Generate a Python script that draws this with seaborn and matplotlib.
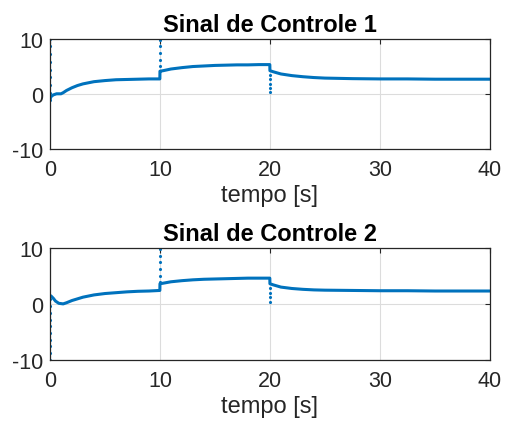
import numpy as np
import pandas as pd
import matplotlib
matplotlib.use("Agg")
import matplotlib.pyplot as plt
import seaborn as sns

# Control signal 1: smooth response segments (time in s, value)
t_u1 = [0.0, 0.1, 0.3, 0.6, 1.0, 1.2, 1.5, 2.0, 2.5, 3.0, 4.0, 5.0, 6.0, 7.0, 8.0, 9.0, 9.99,
        10.0, 10.3, 11.0, 12.0, 13.0, 14.0, 15.0, 16.0, 17.0, 18.0, 19.0, 19.99,
        20.0, 20.3, 21.0, 22.0, 23.0, 24.0, 25.0, 27.5, 30.0, 32.5, 35.0, 37.5, 40.0]
u1 = [-1.0, -0.5, -0.2, 0.0, 0.0, 0.2, 0.6, 1.1, 1.5, 1.8, 2.2, 2.4, 2.55, 2.6, 2.65, 2.7, 2.7,
      4.1, 4.2, 4.5, 4.75, 4.95, 5.05, 5.15, 5.2, 5.25, 5.25, 5.3, 5.3,
      4.2, 4.0, 3.6, 3.3, 3.1, 2.95, 2.85, 2.75, 2.7, 2.7, 2.65, 2.65, 2.65]

# Control signal 2: smooth response segments
t_u2 = [0.0, 0.1, 0.3, 0.5, 0.8, 1.2, 1.5, 2.0, 3.0, 4.0, 5.0, 6.0, 7.0, 8.0, 9.0, 9.99,
        10.0, 10.3, 11.0, 12.0, 13.0, 14.0, 15.0, 16.0, 17.0, 18.0, 19.0, 19.99,
        20.0, 20.3, 21.0, 22.0, 23.0, 24.0, 25.0, 27.5, 30.0, 32.5, 35.0, 37.5, 40.0]
u2 = [1.5, 1.4, 1.0, 0.5, 0.1, 0.0, 0.2, 0.6, 1.2, 1.6, 1.85, 2.0, 2.15, 2.25, 2.3, 2.4,
      3.6, 3.7, 3.95, 4.15, 4.3, 4.4, 4.45, 4.5, 4.55, 4.6, 4.6, 4.6,
      3.6, 3.4, 3.0, 2.75, 2.6, 2.5, 2.45, 2.4, 2.35, 2.35, 2.3, 2.3, 2.3]

# Transient samples at the step instants (vertical dotted bursts)
spike1_t = [0.0] * 9 + [10.0] * 6 + [20.0] * 5
spike1_v = [10.0, 8.6, 7.2, 5.8, 4.4, 3.0, 1.6, 0.2, -1.2,
            9.8, 8.6, 7.4, 6.2, 5.0, 4.2,
            3.4, 2.6, 1.8, 1.0, 0.3]
spike2_t = [0.0] * 10 + [10.0] * 6 + [20.0] * 4
spike2_v = [-10.0, -8.8, -7.6, -6.4, -5.2, -4.0, -2.8, -1.6, -0.4, 0.8,
            9.8, 8.6, 7.4, 6.2, 5.0, 4.0,
            2.8, 2.0, 1.2, 0.4]

titles = ["Sinal de Controle 1", "Sinal de Controle 2"]
xlabel = "tempo [s]"
xticks = [0, 10, 20, 30, 40]
yticks = [-10, 0, 10]

sns.set_style("white")
plt.rcParams["font.family"] = ["Liberation Sans", "DejaVu Sans"]
plt.rcParams["axes.unicode_minus"] = False

blue = "#0072BD"
axis_col = "#262626"

fig = plt.figure(figsize=(5.05, 4.27), dpi=100)
ax1 = fig.add_axes([0.099, 0.649, 0.871, 0.258])
ax2 = fig.add_axes([0.099, 0.155, 0.871, 0.262])

panels = [
    (ax1, t_u1, u1, spike1_t, spike1_v, titles[0]),
    (ax2, t_u2, u2, spike2_t, spike2_v, titles[1]),
]

for ax, t, u, st, sv, title in panels:
    curve = pd.DataFrame({"t": t, "u": u})
    sns.lineplot(data=curve, x="t", y="u", ax=ax, color=blue, lw=2.2,
                 estimator=None, sort=False)
    bursts = pd.DataFrame({"t": st, "u": sv})
    sns.scatterplot(data=bursts, x="t", y="u", ax=ax, color=blue, s=5,
                    linewidth=0)
    ax.set_xlim(0, 40)
    ax.set_ylim(-10, 10)
    ax.set_xticks(xticks)
    ax.set_yticks(yticks)
    ax.grid(True, color="#dcdcdc", lw=0.8)
    ax.set_axisbelow(True)
    ax.tick_params(direction="in", length=3.5, width=0.8, colors=axis_col,
                   labelsize=15.5, top=True, right=True)
    ax.tick_params(axis="x", pad=7)
    ax.tick_params(axis="y", pad=5)
    for lab in ax.get_xticklabels() + ax.get_yticklabels():
        lab.set_color("#262626")
    for sp in ax.spines.values():
        sp.set_color(axis_col)
        sp.set_linewidth(0.9)
    ax.set_title(title, fontsize=17, fontweight="bold", color="black", pad=5.5)
    ax.set_xlabel(xlabel, fontsize=17, color="#262626", labelpad=3)
    ax.set_ylabel("")

fig.savefig("out.png", dpi=100)
